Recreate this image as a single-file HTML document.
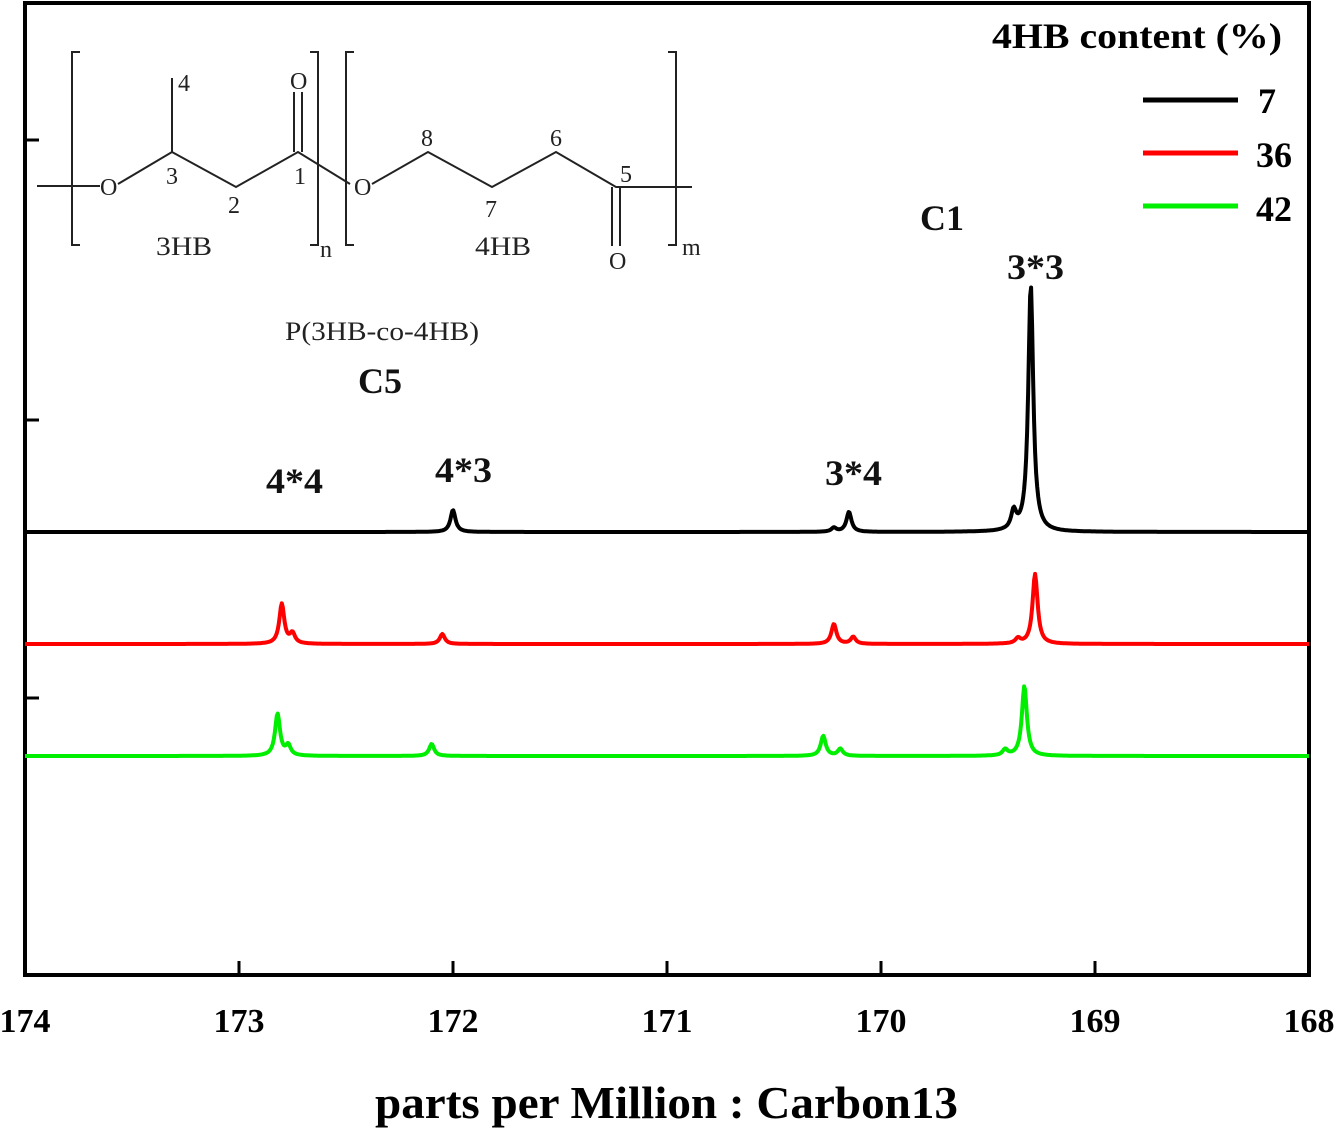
<!DOCTYPE html>
<html><head><meta charset="utf-8"><style>
body{margin:0;background:#fff;}
svg text{font-family:"Liberation Serif",serif;}
</style></head><body>
<svg id="chart" width="1339" height="1132" viewBox="0 0 1339 1132" xmlns="http://www.w3.org/2000/svg">
<g id="plot"></g>
<g stroke="#222" stroke-width="2" fill="none">
<path d="M37 186 H100 M118 184 L172 152 L236 187 L298 152 L350 184 M172 152 V78 M294 152 V92 M302 152 V92 M372 184 L428 152 L492 187 L556 152 L616 187 H692 M612 187 V246 M620 187 V246"/>
<path d="M80 52 H72 V245 H80 M310 52 H318 V245 H310 M354 52 H346 V245 H354 M668 52 H676 V245 H668"/>
</g>
<g font-size="24" fill="#222">
<text x="100" y="195">O</text><text x="354" y="195">O</text><text x="290" y="89">O</text><text x="609" y="269">O</text>
<text x="178" y="91">4</text><text x="166" y="184">3</text><text x="228" y="213">2</text><text x="294" y="184">1</text>
<text x="421" y="146">8</text><text x="550" y="146">6</text><text x="485" y="217">7</text><text x="620" y="182">5</text>
<text x="156" y="255" font-size="26" textLength="56" lengthAdjust="spacingAndGlyphs">3HB</text><text x="475" y="255" font-size="26" textLength="56" lengthAdjust="spacingAndGlyphs">4HB</text><text x="320" y="257">n</text><text x="682" y="255">m</text>
<text x="285" y="340" font-size="26" textLength="194" lengthAdjust="spacingAndGlyphs">P(3HB-co-4HB)</text>
</g>
<g font-size="36" font-weight="bold" fill="#111">
<text x="358" y="393">C5</text><text x="920" y="230">C1</text>
<text x="1007" y="279" textLength="57" lengthAdjust="spacingAndGlyphs">3*3</text><text x="266" y="493" textLength="57" lengthAdjust="spacingAndGlyphs">4*4</text><text x="435" y="482" textLength="57" lengthAdjust="spacingAndGlyphs">4*3</text><text x="825" y="485" textLength="57" lengthAdjust="spacingAndGlyphs">3*4</text>
</g>
<g>
<text x="992" y="48" font-size="36" font-weight="bold" textLength="290" lengthAdjust="spacingAndGlyphs">4HB content (%)</text>
<line x1="1143" y1="100" x2="1238" y2="100" stroke="#000" stroke-width="5"/><text x="1258" y="113" font-size="36" font-weight="bold">7</text>
<line x1="1143" y1="153" x2="1238" y2="153" stroke="#f00" stroke-width="5"/><text x="1256" y="167" font-size="36" font-weight="bold">36</text>
<line x1="1143" y1="206" x2="1238" y2="206" stroke="#0e0" stroke-width="5"/><text x="1256" y="221" font-size="36" font-weight="bold">42</text>
</g>
<text x="375" y="1118" font-size="46" font-weight="bold" textLength="583" lengthAdjust="spacingAndGlyphs">parts per Million : Carbon13</text>
</svg>
<script>
const xTicks=[174,173,172,171,170,169,168];
const seriesNames=["7","36","42"];
const seriesColors=["#000","#f00","#0e0"];
const baselines=[0,-112,-224];
const peakPos7=[169.30,169.38,170.15,170.22,172.00];
const peakH7=[247,18,20,4,22];
const peakPos36=[169.28,169.36,170.22,170.13,172.05,172.80,172.75];
const peakH36=[70,5,20,7,10,40,10];
const peakPos42=[169.33,169.42,170.27,170.19,172.10,172.82,172.77];
const peakH42=[70,6,20,7,12,42,10];
const peakPositions=[peakPos7,peakPos36,peakPos42];
const peakHeights=[peakH7,peakH36,peakH42];
const L=25,R=1309,T=3,B=975;
const xs=v=>L+(174-v)/6*(R-L);
const ys=v=>532-v;
const g=document.getElementById('plot');
const NS='http://www.w3.org/2000/svg';
function mk(t,a){const e=document.createElementNS(NS,t);for(const k in a)e.setAttribute(k,a[k]);g.appendChild(e);return e;}
const fr=mk('rect',{x:L,y:T,width:R-L,height:B-T,fill:'none',stroke:'#000','stroke-width':4});


[140,420,698].forEach(y=>{const t=mk('line',{x1:L,x2:L+14,y1:y,y2:y,stroke:'#000','stroke-width':3});

});
xTicks.forEach(v=>{const x=xs(v);
const t=mk('line',{x1:x,x2:x,y1:B,y2:B-14,stroke:'#000','stroke-width':3});


const lb=mk('text',{x:x,y:1032,'text-anchor':'middle','font-size':34,'font-weight':'bold'});
lb.textContent=v;

});
const w=0.014;
seriesNames.forEach((n,i)=>{let d='';
for(let k=0;k<=1280;k++){const p=174-k*6/1280;let v=baselines[i];
peakPositions[i].forEach((c,j)=>{const u=(p-c)/w;v+=peakHeights[i][j]/(1+u*u);});
d+=(k?'L':'M')+xs(p).toFixed(1)+' '+ys(v).toFixed(1);}
const pa=mk('path',{d:d,fill:'none',stroke:seriesColors[i],'stroke-width':4,'stroke-linejoin':'round'});

});
</script>
</body></html>
